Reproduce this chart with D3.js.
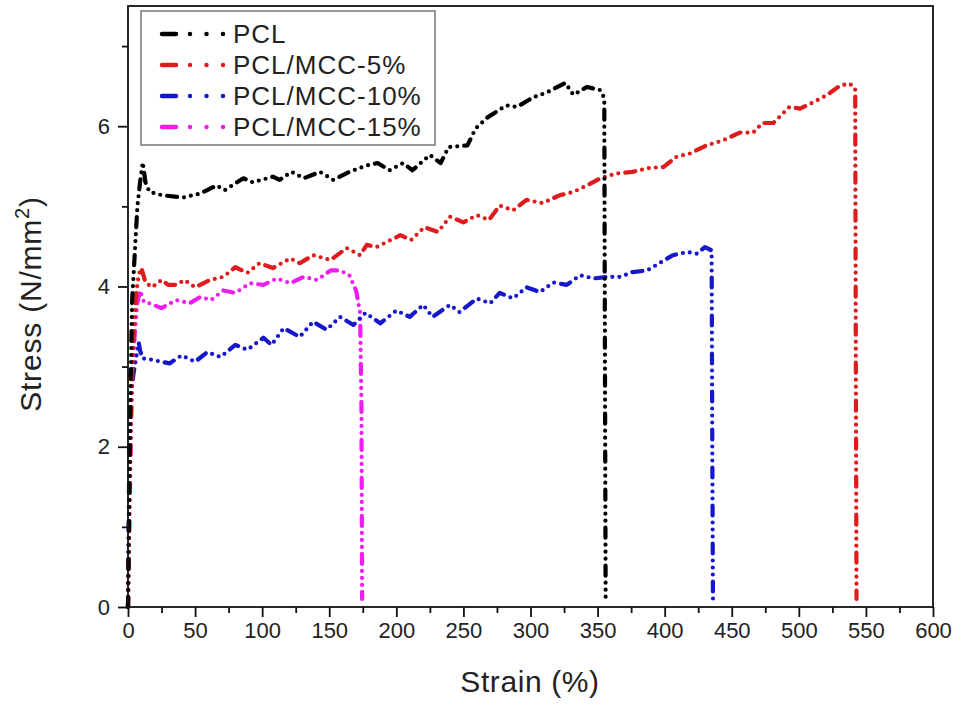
<!DOCTYPE html>
<html>
<head>
<meta charset="utf-8">
<script src="https://cdn.jsdelivr.net/npm/d3@7"></script>
<style>
  body { margin: 0; background: #fff; }
  svg { display: block; }
  text { font-family: "Liberation Sans", Arial, sans-serif; fill: #222; }
</style>
</head>
<body>
<svg id="chart" width="962" height="707"></svg>
<script>
// ---------- DATA ----------
const seriesNames = ["PCL", "PCL/MCC-5%", "PCL/MCC-10%", "PCL/MCC-15%"];
const seriesColors = ["#000000", "#e01b1b", "#1616cc", "#ee1fee"];

// [strain %, stress N/mm2]
const pcl = [
  [0,0],[1,1.5],[2,2.8],[3,3.8],[5,4.4],[7,5.0],[9,5.3],[11,5.55],[13,5.3],[16,5.18],
  [25,5.14],[41,5.11],[54,5.16],[66,5.26],[72,5.2],[86,5.35],[93,5.3],[108,5.37],[113,5.33],
  [122,5.43],[131,5.35],[143,5.43],[153,5.33],[165,5.43],[178,5.51],[186,5.54],[195,5.45],
  [205,5.54],[212,5.45],[225,5.64],[233,5.54],[239,5.74],[253,5.76],[259,5.97],[268,6.11],
  [282,6.26],[290,6.24],[302,6.36],[312,6.42],[326,6.54],[332,6.39],[342,6.49],[352,6.45],
  [355,6.35],[355.5,3.0],[356,0.1]
];
const mcc5 = [
  [0,0],[1,1.2],[2,2.3],[4,3.3],[6,3.9],[8,4.15],[10,4.23],[13,4.05],[18,3.99],[25,4.08],
  [30,4.02],[36,4.02],[42,4.08],[50,3.99],[61,4.08],[71,4.12],[80,4.24],[89,4.17],[98,4.29],
  [108,4.23],[121,4.35],[128,4.29],[138,4.39],[151,4.33],[163,4.48],[173,4.39],[178,4.52],
  [185,4.49],[203,4.64],[211,4.58],[221,4.74],[231,4.68],[240,4.87],[250,4.8],[260,4.89],
  [269,4.83],[277,5.01],[287,4.95],[297,5.08],[309,5.04],[322,5.14],[332,5.18],[342,5.26],
  [352,5.35],[364,5.41],[376,5.43],[389,5.48],[399,5.49],[409,5.62],[419,5.66],[431,5.76],
  [443,5.82],[456,5.92],[466,5.92],[473,6.04],[481,6.04],[493,6.24],[501,6.22],[511,6.3],
  [521,6.39],[531,6.51],[538,6.53],[542,6.47],[542.5,3.0],[543,0.1]
];
const mcc10 = [
  [0,0],[0.5,1],[1,2],[2,2.6],[4,2.9],[6,3.1],[8,3.3],[9,3.2],[11,3.1],[14,3.1],[19,3.08],
  [31,3.04],[40,3.14],[50,3.06],[59,3.18],[69,3.12],[80,3.27],[89,3.21],[101,3.36],[107,3.27],
  [116,3.48],[128,3.37],[138,3.56],[148,3.46],[158,3.62],[168,3.52],[177,3.67],[188,3.54],
  [200,3.7],[210,3.62],[220,3.77],[227,3.62],[240,3.77],[247,3.68],[260,3.85],[270,3.79],
  [277,3.92],[287,3.85],[297,3.99],[307,3.93],[317,4.05],[327,4.02],[337,4.14],[347,4.1],
  [357,4.12],[367,4.12],[376,4.18],[387,4.2],[397,4.3],[406,4.39],[417,4.43],[424,4.41],
  [430,4.49],[435,4.45],[435.5,2.0],[436,0.1]
];
const mcc15 = [
  [0,0],[1,1],[2,2],[3,2.8],[5,3.4],[7,3.8],[9,3.95],[12,3.8],[16,3.79],[25,3.73],[36,3.83],
  [46,3.79],[54,3.87],[62,3.83],[71,3.95],[80,3.92],[91,4.04],[101,4.02],[111,4.1],[121,4.04],
  [131,4.12],[141,4.08],[151,4.2],[158,4.2],[165,4.14],[170,3.95],[173,3.67],[174,2.5],[174.5,0.1]
];
const seriesData = [pcl, mcc5, mcc10, mcc15];

const xTicks = [0,50,100,150,200,250,300,350,400,450,500,550,600];
const yTicks = [0,2,4,6];
const xLabel = "Strain (%)";

// ---------- LAYOUT ----------
const svg = d3.select("#chart");
const L = 128, R = 933, T = 6, B = 607;
const x = d3.scaleLinear().domain([0, 600]).range([L, R]);
const y = d3.scaleLinear().domain([0, 7.5]).range([B, T]);

const line = d3.line().x(d => x(d[0])).y(d => y(d[1]));
const order = [3, 2, 1, 0];
order.forEach(i => {
  svg.append("path")
    .datum(seriesData[i])
    .attr("d", line)
    .attr("fill", "none")
    .attr("stroke", seriesColors[i])
    .attr("stroke-width", 4.2)
    .attr("stroke-linecap", "round")
    .attr("stroke-linejoin", "round")
    .attr("stroke-dasharray", "10,7,0,7,0,7,0,7");
});

// frame
svg.append("rect").attr("x", L).attr("y", T).attr("width", R - L).attr("height", B - T)
  .attr("fill", "none").attr("stroke", "#111").attr("stroke-width", 1.8);

// x axis
const xAxis = d3.axisBottom(x).tickValues(xTicks).tickSize(10).tickPadding(5).tickFormat(d3.format("d"));
svg.append("g").attr("transform", `translate(0,${B})`).call(xAxis);
const xMinor = d3.axisBottom(x).tickValues(d3.range(25, 600, 50)).tickSize(6).tickFormat("");
svg.append("g").attr("transform", `translate(0,${B})`).call(xMinor);

// y axis
const yAxis = d3.axisLeft(y).tickValues(yTicks).tickSize(10).tickPadding(8).tickFormat(d3.format("d"));
svg.append("g").attr("transform", `translate(${L},0)`).call(yAxis);
const yMinor = d3.axisLeft(y).tickValues([1,3,5,7]).tickSize(6).tickFormat("");
svg.append("g").attr("transform", `translate(${L},0)`).call(yMinor);

svg.selectAll(".domain").remove();
svg.selectAll(".tick line").attr("stroke", "#111").attr("stroke-width", 1.8);
svg.selectAll(".tick text").style("font-size", "22px").attr("fill", "#222")
  .style("font-family", '"Liberation Sans", Arial, sans-serif');

// axis titles
svg.append("text").attr("x", 530).attr("y", 692).attr("text-anchor", "middle")
  .style("font-size", "30px").style("letter-spacing", "0.6px").text(xLabel);

const yt = svg.append("text").attr("transform", "translate(41,304) rotate(-90)")
  .attr("text-anchor", "middle").style("font-size", "30px").style("letter-spacing", "0.8px");
yt.append("tspan").text("Stress (N/mm");
yt.append("tspan").attr("dy", -12).style("font-size", "20px").text("2");
yt.append("tspan").attr("dy", 12).text(")");

// legend
const lg = svg.append("g");
lg.append("rect").attr("x", 141).attr("y", 11).attr("width", 294).attr("height", 134)
  .attr("fill", "#fff").attr("stroke", "#555").attr("stroke-width", 1.2);
const baselines = [43, 74, 105, 136];
seriesNames.forEach((name, i) => {
  const by = baselines[i];
  lg.append("line").attr("x1", 162).attr("x2", 224).attr("y1", by - 9).attr("y2", by - 9)
    .attr("stroke", seriesColors[i]).attr("stroke-width", 4.5).attr("stroke-linecap", "round")
    .attr("stroke-dasharray", "14,14,0,16.5,0,16.5,0,100");
  lg.append("text").attr("x", 233).attr("y", by).style("font-size", "26px")
    .style("letter-spacing", "1px").attr("fill", "#111").text(name);
});
</script>
</body>
</html>
